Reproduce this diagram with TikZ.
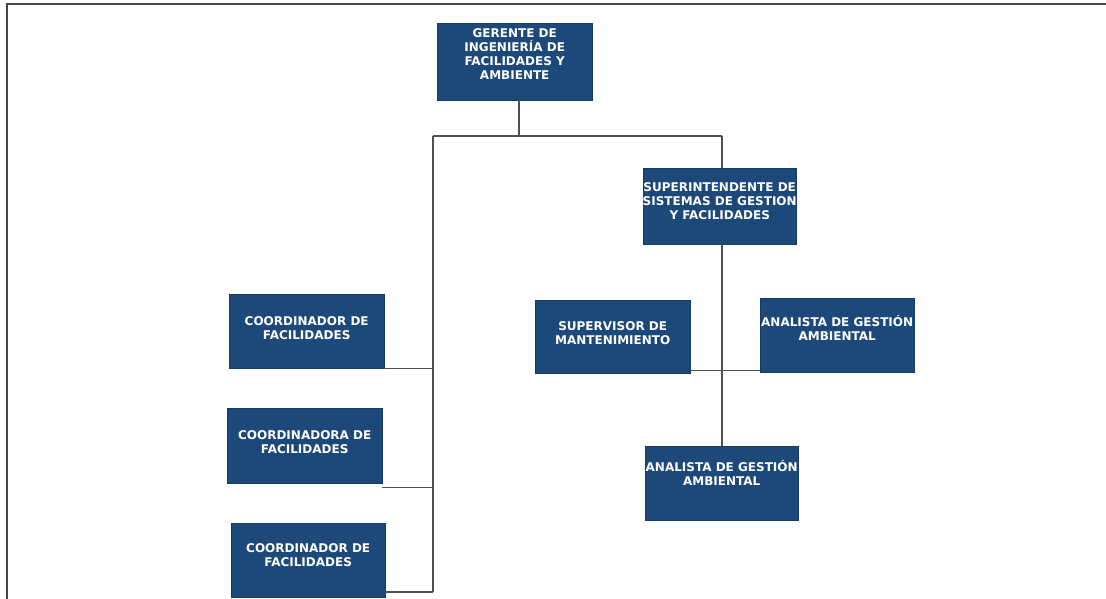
\documentclass[tikz,border=0pt]{standalone}
\usepackage{fontspec}
\setmainfont{DejaVu Sans}
\definecolor{boxblue}{RGB}{28,72,122}
\definecolor{linegray}{RGB}{80,80,80}
\definecolor{framegray}{RGB}{70,70,70}
\tikzset{
  orgbox/.style={draw=boxblue!80!black, fill=boxblue, minimum width=#1, inner sep=0pt},
  boxtext/.style={text=white, font=\bfseries\fontsize{12}{14.2}\selectfont, align=center, inner sep=0pt, anchor=north},
  link/.style={draw=linegray, line width=1.4pt}
}
\begin{document}
\begin{tikzpicture}[x=1pt,y=-1pt]
\useasboundingbox (0,0) rectangle (1106,599);
\fill[white] (0,0) rectangle (1106,599);
\draw[framegray, line width=2pt] (7,599) -- (7,4) -- (1106,4);

% boxes: corners from the reference
\node[orgbox=155pt, minimum height=77pt, anchor=north west,
  label={[boxtext, yshift=-5pt]north:GERENTE DE\\INGENIERÍA DE\\FACILIDADES Y\\AMBIENTE}] (ger) at (437,23) {};
\node[orgbox=153pt, minimum height=76pt, anchor=north west,
  label={[boxtext, yshift=-14pt]north:SUPERINTENDENTE DE\\SISTEMAS DE GESTION\\Y FACILIDADES}] (sup) at (643,168) {};
\node[orgbox=155pt, minimum height=74pt, anchor=north west,
  label={[boxtext, yshift=-22pt]north:COORDINADOR DE\\FACILIDADES}] (c1) at (229,294) {};
\node[orgbox=155pt, minimum height=75pt, anchor=north west,
  label={[boxtext, yshift=-22pt]north:COORDINADORA DE\\FACILIDADES}] (c2) at (227,408) {};
\node[orgbox=154pt, minimum height=74pt, anchor=north west,
  label={[boxtext, yshift=-20pt]north:COORDINADOR DE\\FACILIDADES}] (c3) at (231,523) {};
\node[orgbox=155pt, minimum height=73pt, anchor=north west,
  label={[boxtext, yshift=-21pt]north:SUPERVISOR DE\\MANTENIMIENTO}] (smant) at (535,300) {};
\node[orgbox=154pt, minimum height=74pt, anchor=north west,
  label={[boxtext, yshift=-17pt]north:ANALISTA DE GESTIÓN\\AMBIENTAL}] (aga1) at (760,298) {};
\node[orgbox=153pt, minimum height=74pt, anchor=north west,
  label={[boxtext, yshift=-14pt]north:ANALISTA DE GESTIÓN\\AMBIENTAL}] (aga2) at (645,446) {};

% junction points
\coordinate (jtop) at (519,136);
\coordinate (jleft) at (433,136);
\coordinate (jright) at (722,136);
\coordinate (jbot) at (433,592);

\draw[link] (ger.south -| jtop) -- (jtop);
\draw[link] (jleft) -- (jright);
\draw[link] (jright) -- (sup.north -| jright);
\draw[link] (sup.south -| jright) -- (aga2.north -| jright);
\draw[link] (jleft) -- (jbot);
\draw[link] (c1.south east) -- (c1.south east -| jleft);
\draw[link] ([yshift=-4pt]c2.south east) -- ([yshift=-4pt]c2.south east -| jleft);
\draw[link] (c3.east |- jbot) -- (jbot);
\draw[link] ([yshift=3pt]smant.south east) -- ([yshift=3pt]smant.south east -| aga1.west);
\end{tikzpicture}
\end{document}
